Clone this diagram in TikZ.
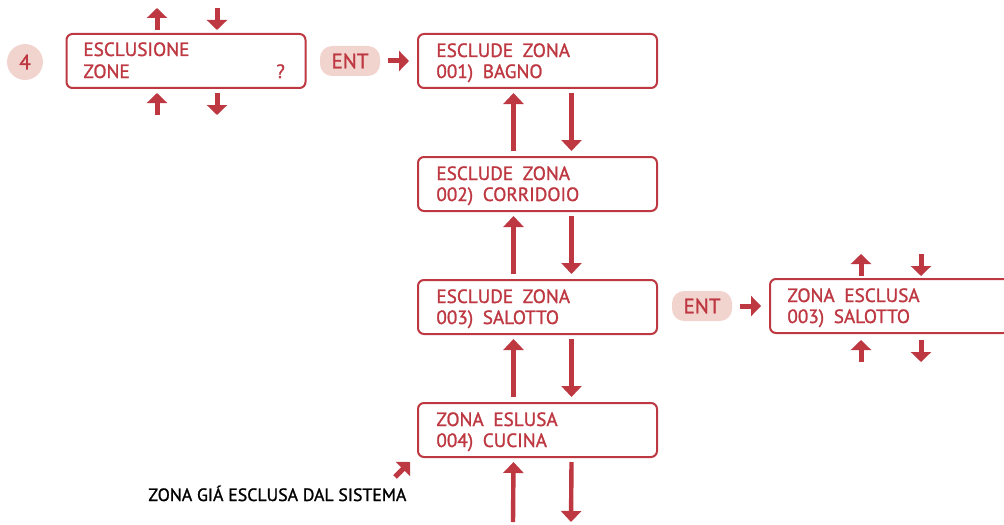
\documentclass[tikz,border=0pt]{standalone}
\usepackage{fontspec}
\setmainfont{PT Sans}
\newfontfamily\medfont[FakeBold=1.3]{PT Sans}
\usetikzlibrary{arrows.meta}
\definecolor{dred}{RGB}{190,56,66}
\definecolor{lpink}{RGB}{242,212,207}
\tikzset{
  lcd/.style={draw=dred, line width=1pt, rounded corners=3pt, minimum width=119.5pt, minimum height=27pt, inner sep=0pt},
  lcdtxt/.style={text=dred, anchor=base west, inner sep=0pt, font=\medfont\fontsize{9.6}{10}\selectfont},
  entbox/.style={fill=lpink, rounded corners=6pt, minimum width=30pt, minimum height=15pt, inner sep=0pt, text=dred, font=\medfont\fontsize{10.5}{11}\selectfont},
  longarr/.style={draw=dred, line width=2.2pt, -{Triangle[length=5.5pt,width=10pt]}},
  shortarr/.style={draw=dred, line width=2.5pt, -{Triangle[length=5pt,width=10pt]}},
}
\newcommand{\wsp}{\hspace{0.5em}}
\begin{document}
\begin{tikzpicture}[x=0.5pt,y=-0.5pt]
\useasboundingbox (0,0) rectangle (1004,524);
\clip (0,0) rectangle (1004,524);
% step circle
\node[circle, fill=lpink, minimum size=18pt, inner sep=0pt, text=dred, font=\medfont\fontsize{10.5}{11}\selectfont] (num) at (25,62) {4};
% box 1
\node[lcd] (b1) at (186,61) {};
\node[lcdtxt] (b1a) at (83,56) {ESCLUSIONE};
\node[lcdtxt] (b1b) at (83,78) {ZONE};
\node[lcdtxt] (b1q) at (276,78) {?};
\coordinate (u1s) at (157,30); \coordinate (u1e) at (157,8);
\coordinate (d1s) at (217,8);  \coordinate (d1e) at (217,30);
\coordinate (u2s) at (157,115); \coordinate (u2e) at (157,93);
\coordinate (d2s) at (217,93);  \coordinate (d2e) at (217,115);
\draw[shortarr] (u1s) -- (u1e);
\draw[shortarr] (d1s) -- (d1e);
\draw[shortarr] (u2s) -- (u2e);
\draw[shortarr] (d2s) -- (d2e);
% ENT 1
\node[entbox] (ent1) at (350,61) {ENT};
\node[lcd] (z1) at (537.5,61) {};
\draw[shortarr] ([xshift=4pt]ent1.east) -- ([xshift=-4pt]z1.west);
% column boxes
\node[lcd] (z2) at (537.5,184) {};
\node[lcd] (z3) at (537.5,307) {};
\node[lcd] (z4) at (537.5,430) {};
\node[lcdtxt] (z1a) at (436,57) {ESCLUDE\wsp ZONA};
\node[lcdtxt] (z1b) at (436,78) {001)\wsp BAGNO};
\node[lcdtxt] (z2a) at (436,180) {ESCLUDE\wsp ZONA};
\node[lcdtxt] (z2b) at (436,201) {002)\wsp CORRIDOIO};
\node[lcdtxt] (z3a) at (436,303) {ESCLUDE\wsp ZONA};
\node[lcdtxt] (z3b) at (436,324) {003)\wsp SALOTTO};
\node[lcdtxt] (z4a) at (436,426) {ZONA\wsp ESLUSA};
\node[lcdtxt] (z4b) at (436,447) {004)\wsp CUCINA};
% arrows between
\foreach \a/\b in {z1/z2, z2/z3, z3/z4}{
  \draw[longarr] ([xshift=-12pt,yshift=2.5pt]\b.north) -- ([xshift=-12pt,yshift=-2pt]\a.south);
  \draw[longarr] ([xshift=17pt,yshift=-2pt]\a.south) -- ([xshift=17pt,yshift=2.5pt]\b.north);
}
\coordinate (bot1) at (513,522);
\coordinate (bot2) at (571,522);
\draw[longarr] (bot1) -- ([xshift=-12pt,yshift=-2pt]z4.south);
\draw[longarr] ([xshift=17pt,yshift=-2pt]z4.south) -- (bot2);
% ENT 2
\node[entbox] (ent2) at (702,306) {ENT};
\node[lcd] (z5) at (889.5,306) {};
\draw[shortarr] ([xshift=4pt]ent2.east) -- ([xshift=-4pt]z5.west);
\node[lcdtxt] (z5a) at (787,302) {ZONA\wsp ESCLUSA};
\node[lcdtxt] (z5b) at (787,323) {003)\wsp SALOTTO};
\coordinate (u3s) at (861,276); \coordinate (u3e) at (861,254);
\coordinate (d3s) at (921,254); \coordinate (d3e) at (921,276);
\coordinate (u4s) at (861,362); \coordinate (u4e) at (861,340);
\coordinate (d4s) at (921,340); \coordinate (d4e) at (921,362);
\draw[shortarr] (u3s) -- (u3e);
\draw[shortarr] (d3s) -- (d3e);
\draw[shortarr] (u4s) -- (u4e);
\draw[shortarr] (d4s) -- (d4e);
% note
\node[anchor=base west, inner sep=0pt, font=\medfont\fontsize{8.9}{10}\selectfont] (note) at (148,501) {ZONA GIÁ ESCLUSA DAL SISTEMA};
\coordinate (na) at (395,477);
\coordinate (nb) at (410,462);
\draw[shortarr] (na) -- (nb);
\end{tikzpicture}
\end{document}
